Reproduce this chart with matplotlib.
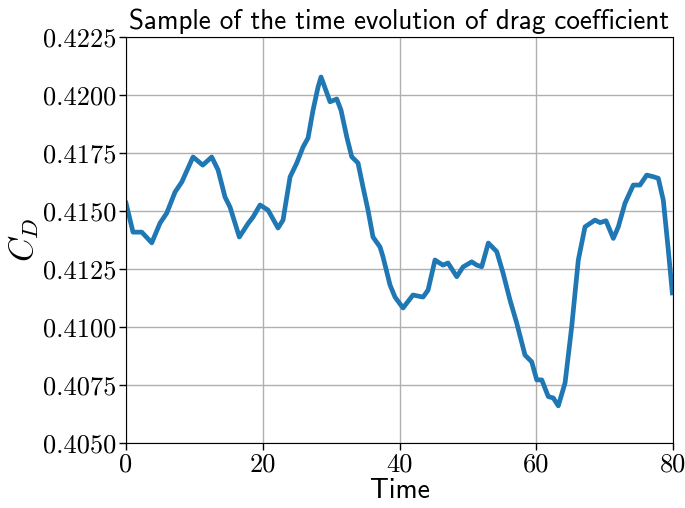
import matplotlib
matplotlib.use("Agg")
import matplotlib.pyplot as plt

plt.rcParams['font.family'] = 'cmr10'
plt.rcParams['mathtext.fontset'] = 'cm'
plt.rcParams['axes.formatter.use_mathtext'] = True

time = [0.00, 1.02, 2.30, 3.76, 4.97, 5.95, 7.17, 8.15, 9.80, 11.22, 12.53, 13.46,
        14.48, 15.21, 16.57, 17.89, 18.57, 19.60, 20.77, 22.23, 22.96, 23.99, 24.97,
        25.89, 26.62, 27.35, 28.08, 28.52, 29.84, 30.82, 31.44, 32.28, 33.01, 33.93,
        34.66, 35.39, 36.12, 37.15, 37.59, 38.61, 39.34, 40.51, 41.97, 43.44, 44.17,
        45.19, 45.63, 46.36, 47.09, 48.37, 49.29, 50.56, 51.29, 52.02, 52.99, 54.22,
        55.14, 56.16, 57.14, 58.35, 59.33, 60.07, 60.80, 61.76, 62.49, 63.22, 64.21,
        65.18, 66.15, 67.13, 68.59, 69.32, 70.20, 71.27, 72.00, 72.98, 74.19, 75.17,
        76.15, 77.12, 77.85, 78.58, 79.31, 79.90]
cd = [0.41534, 0.41409, 0.41409, 0.41363, 0.41448, 0.41491, 0.41582, 0.41625, 0.41733,
      0.41698, 0.41733, 0.41677, 0.41560, 0.41517, 0.41388, 0.41448, 0.41474, 0.41526,
      0.41504, 0.41427, 0.41461, 0.41647, 0.41707, 0.41776, 0.41815, 0.41935, 0.42034,
      0.42078, 0.41971, 0.41983, 0.41935, 0.41820, 0.41734, 0.41707, 0.41603, 0.41504,
      0.41388, 0.41345, 0.41302, 0.41181, 0.41129, 0.41082, 0.41138, 0.41129, 0.41159,
      0.41289, 0.41280, 0.41267, 0.41276, 0.41217, 0.41259, 0.41281, 0.41267, 0.41260,
      0.41362, 0.41325, 0.41233, 0.41116, 0.41017, 0.40879, 0.40850, 0.40772, 0.40772,
      0.40700, 0.40694, 0.40660, 0.40759, 0.41001, 0.41289, 0.41432, 0.41461, 0.41450,
      0.41458, 0.41382, 0.41432, 0.41534, 0.41612, 0.41612, 0.41655, 0.41648, 0.41641,
      0.41547, 0.41332, 0.41147]

xticks = [0, 20, 40, 60, 80]
yticks = [0.4050, 0.4075, 0.4100, 0.4125, 0.4150, 0.4175, 0.4200, 0.4225]

fig = plt.figure(figsize=(6.85, 5.08), dpi=100)
ax = fig.add_axes([0.184, 0.128, 0.7985, 0.799])
ax.plot(time, cd, color='#1f77b4', linewidth=3.4, solid_joinstyle='round')
ax.set_xlim(0, 80)
ax.set_ylim(0.4050, 0.4225)
ax.set_xticks(xticks)
ax.set_yticks(yticks)
ax.set_xticklabels([str(v) for v in xticks])
ax.set_yticklabels([f"{v:.4f}" for v in yticks])
ax.tick_params(labelsize=19, length=5, width=1, pad=2)
ax.grid(True, color='#b0b0b0', linewidth=1)
for s in ax.spines.values():
    s.set_color('black')
ax.set_title('Sample of the time evolution of drag coefficient', family='cmss10',
             fontsize=19.5, pad=6)
ax.set_xlabel('Time', family='cmss10', fontsize=20, labelpad=1)
ax.set_ylabel('$C_D$', fontsize=24, labelpad=1)
fig.savefig('out.png', dpi=100)
